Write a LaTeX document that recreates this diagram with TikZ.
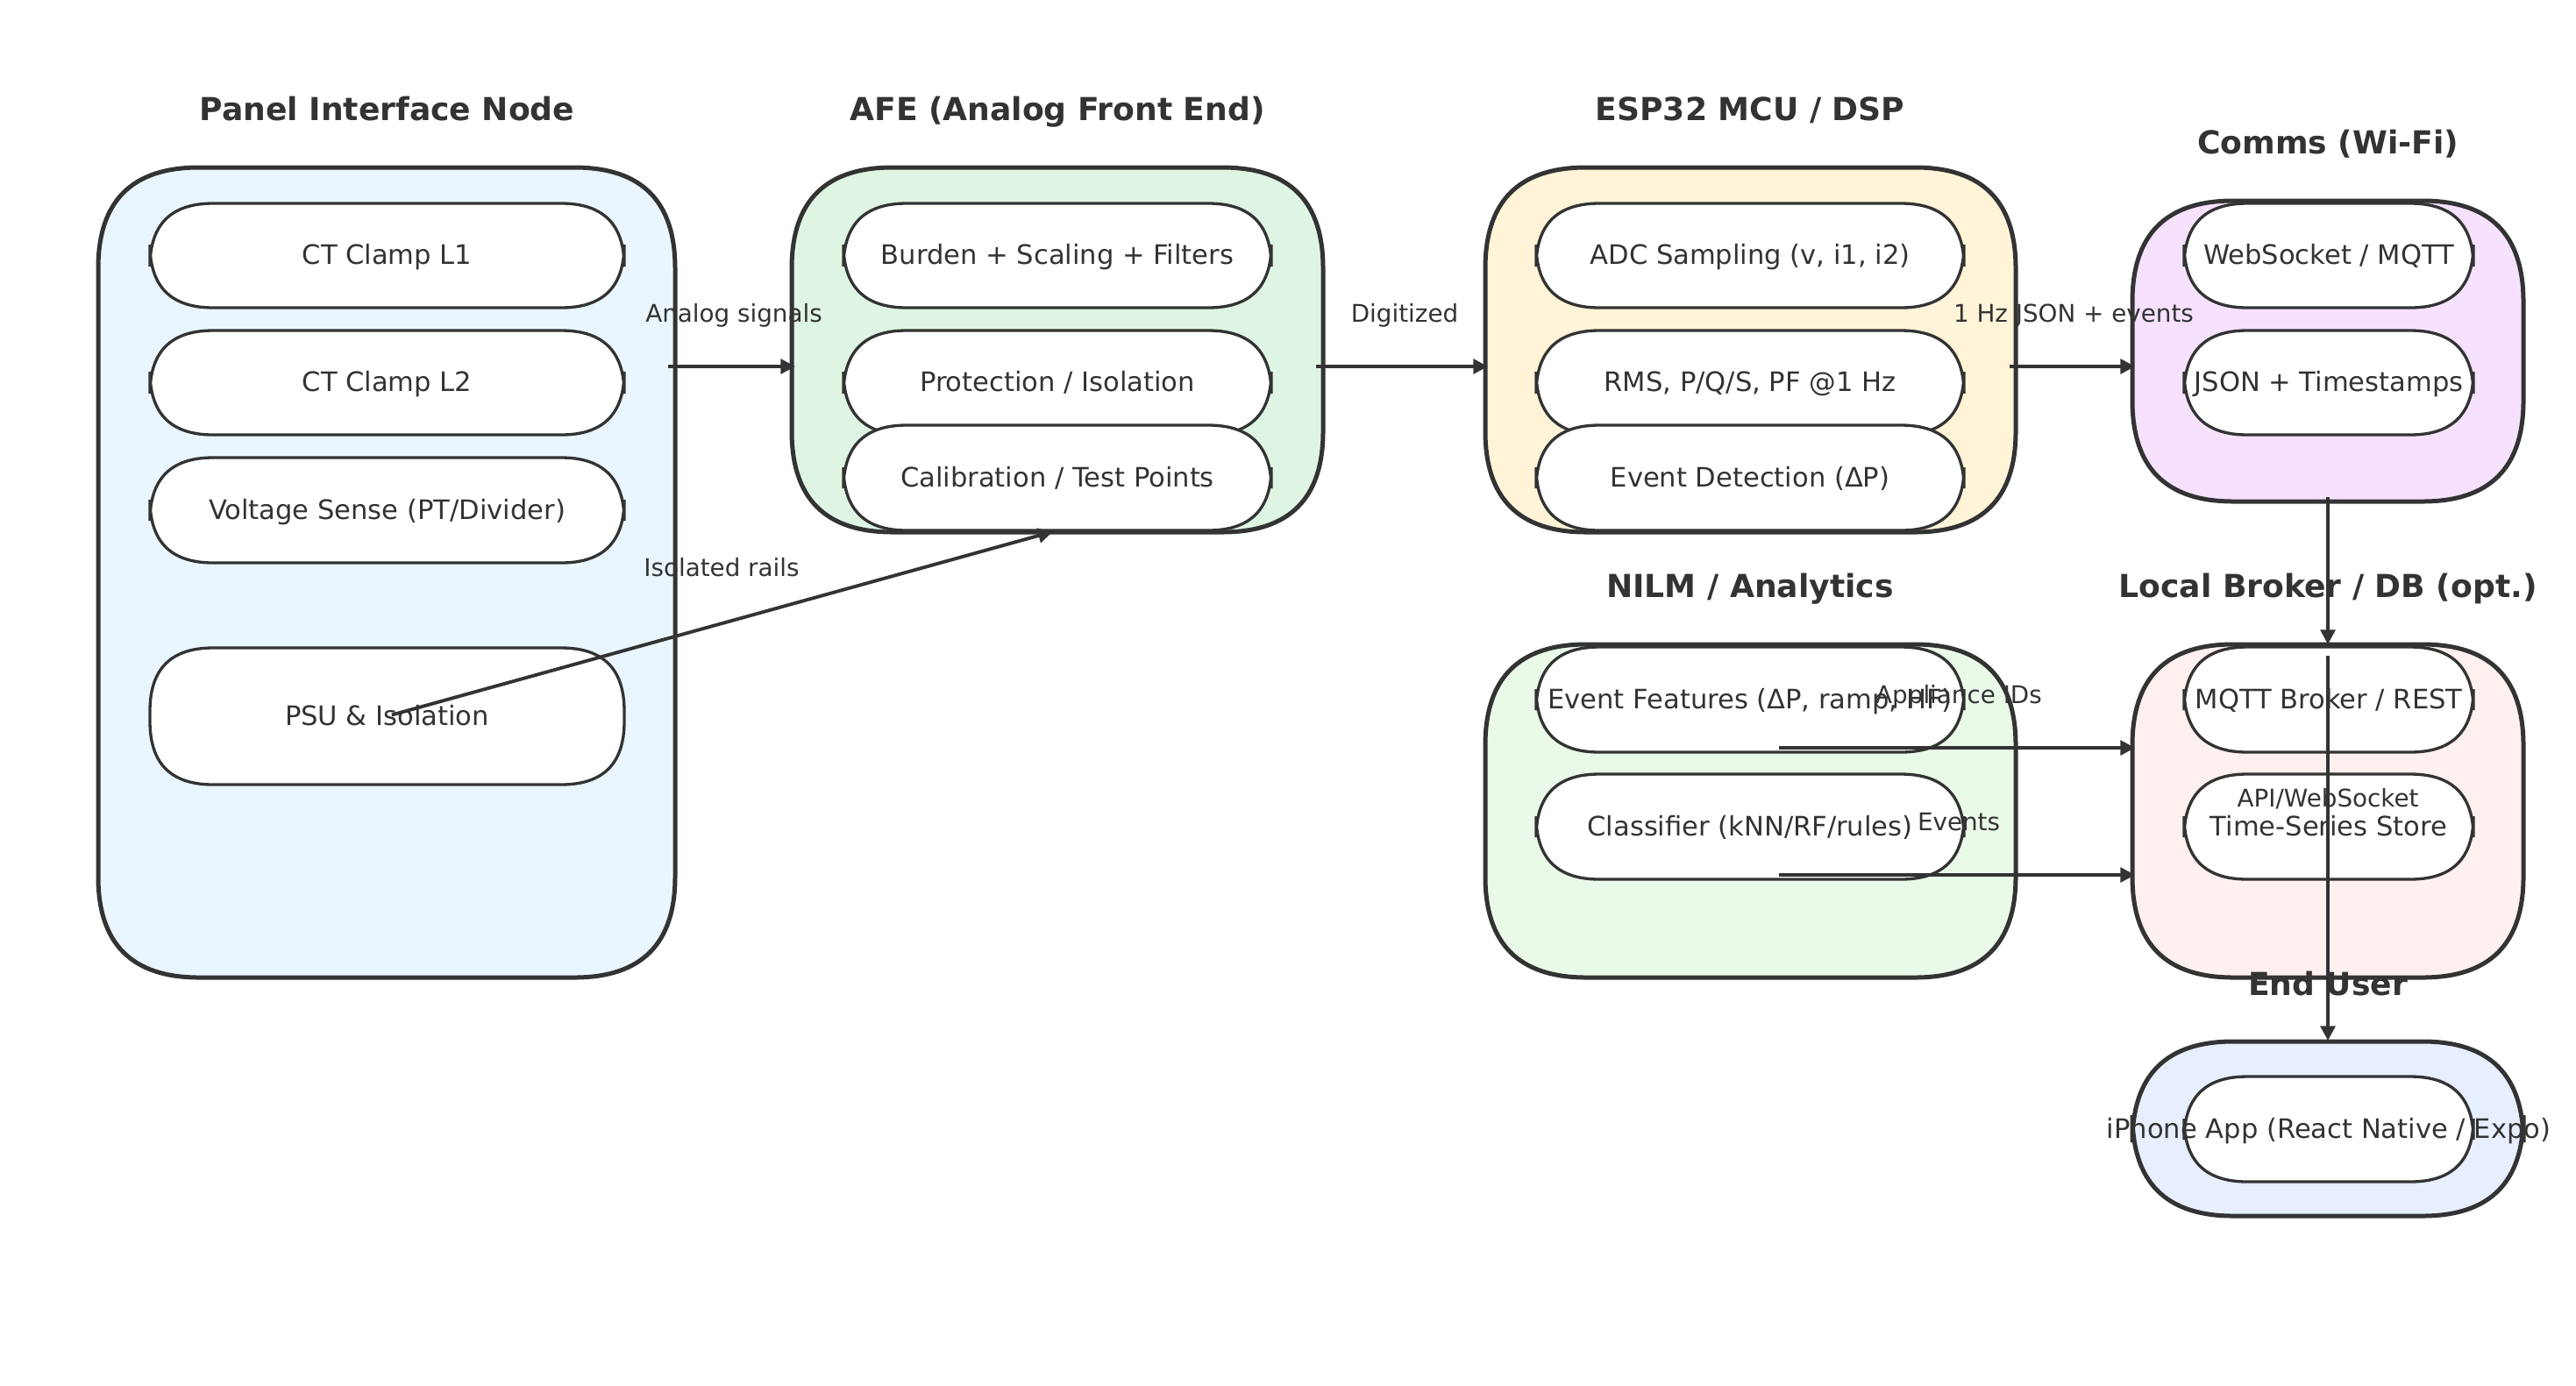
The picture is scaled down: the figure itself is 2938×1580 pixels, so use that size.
\documentclass[tikz,border=0pt]{standalone}
\usepackage{fontspec}
\setmainfont{DejaVu Sans}
\usetikzlibrary{arrows.meta}

\definecolor{ink}{HTML}{333333}
\definecolor{panelfill}{HTML}{EAF6FF}
\definecolor{afefill}{HTML}{DFF5E4}
\definecolor{mcufill}{HTML}{FFF4D7}
\definecolor{commsfill}{HTML}{F6E1FF}
\definecolor{nilmfill}{HTML}{EAFAE9}
\definecolor{brokerfill}{HTML}{FEF0EE}
\definecolor{userfill}{HTML}{E7EFFF}

% rounded box with square-ish corner curves: style, x0, y0, x1, y1, radius
\newcommand{\rbox}[6]{%
  \draw[#1] (#2+#6,#3) -- (#4-#6,#3)
    .. controls (#4-#6/3,#3) and (#4,#3+#6/3) .. (#4,#3+#6)
    -- (#4,#5-#6)
    .. controls (#4,#5-#6/3) and (#4-#6/3,#5) .. (#4-#6,#5)
    -- (#2+#6,#5)
    .. controls (#2+#6/3,#5) and (#2,#5-#6/3) .. (#2,#5-#6)
    -- (#2,#3+#6)
    .. controls (#2,#3+#6/3) and (#2+#6/3,#3) .. cycle;}
\newcommand{\pillbox}[4]{\rbox{pill}{#1}{#2}{#3}{#4}{72}}

\begin{document}
\begin{tikzpicture}[x=0.36pt,y=-0.36pt,
  grp/.style={draw=ink,line width=1.8pt},
  pill/.style={draw=ink,fill=white,line width=1.2pt},
  lbl/.style={text=ink,inner sep=0pt,text height=0.73em,text depth=0pt,
    font=\fontsize{11}{13}\selectfont},
  ttl/.style={lbl,font=\bfseries\fontsize{13}{15}\selectfont},
  elbl/.style={lbl,font=\fontsize{10}{12}\selectfont},
  flow/.style={draw=ink,line width=1.4pt,-{Triangle[length=6pt,width=6pt]}},
]
\useasboundingbox (0,0) rectangle (2938,1580);
%%
  % Node: Panel Interface Node
\begin{scope}
  \rbox{grp,fill=panelfill}{112}{191}{770}{1115}{115}
  \node[ttl] (panel) at (441.5,127) {Panel Interface Node};
  \pillbox{171}{232}{712}{351}
  \node[lbl] (ct1) at (441.5,291.5) {CT Clamp L1};
  \pillbox{171}{377}{712}{496}
  \node[lbl] (ct2) at (441.5,436.5) {CT Clamp L2};
  \pillbox{171}{522}{712}{642}
  \node[lbl] (vsense) at (441.5,582) {Voltage Sense (PT/Divider)};
  \pillbox{171}{739}{712}{895}
  \node[lbl] (psu) at (441.5,817) {PSU \& Isolation};
\end{scope}
  % Node: AFE
\begin{scope}
  \rbox{grp,fill=afefill}{903}{191}{1509}{607}{115}
  \node[ttl] (afe) at (1206,127) {AFE (Analog Front End)};
  \pillbox{962}{232}{1450}{351}
  \node[lbl] (burden) at (1206,291.5) {Burden + Scaling + Filters};
  \pillbox{962}{377}{1450}{496}
  \node[lbl] (protect) at (1206,436.5) {Protection / Isolation};
  \pillbox{962}{485}{1450}{605}
  \node[lbl] (calib) at (1206,545) {Calibration / Test Points};
  \coordinate (calib-foot) at (1206,605);
\end{scope}
  % Node: ESP32
\begin{scope}
  \rbox{grp,fill=mcufill}{1694}{191}{2299}{607}{115}
  \node[ttl] (mcu) at (1996,127) {ESP32 MCU / DSP};
  \pillbox{1752}{232}{2240}{351}
  \node[lbl] (adc) at (1996,291.5) {ADC Sampling (v, i1, i2)};
  \pillbox{1752}{377}{2240}{496}
  \node[lbl] (rms) at (1996,436.5) {RMS, P/Q/S, PF @1 Hz};
  \pillbox{1752}{485}{2240}{605}
  \node[lbl] (evdet) at (1996,545) {Event Detection (ΔP)};
\end{scope}
  % Node: Comms
\begin{scope}
  \rbox{grp,fill=commsfill}{2432}{229}{2878}{572}{115}
  \node[ttl] (comms) at (2655,165) {Comms (Wi-Fi)};
  \pillbox{2491}{232}{2821}{351}
  \node[lbl] (ws) at (2656,291.5) {WebSocket / MQTT};
  \pillbox{2491}{377}{2821}{496}
  \node[lbl] (json) at (2656,436.5) {JSON + Timestamps};
\end{scope}
  % Node: NILM
\begin{scope}
  \rbox{grp,fill=nilmfill}{1694}{735}{2299}{1115}{115}
  \node[ttl] (nilm) at (1996,671) {NILM / Analytics};
  \pillbox{1752}{738}{2240}{858}
  \node[lbl] (feat) at (1996,798) {Event Features (ΔP, ramp, HF)};
  \pillbox{1752}{883}{2240}{1003}
  \node[lbl] (clf) at (1996,943) {Classifier (kNN/RF/rules)};
\end{scope}
  % Node: Local Broker
\begin{scope}
  \rbox{grp,fill=brokerfill}{2432}{735}{2878}{1115}{115}
  \node[ttl] (broker) at (2655,671) {Local Broker / DB (opt.)};
  \pillbox{2491}{738}{2821}{858}
  \node[lbl] (mqtt) at (2656,798) {MQTT Broker / REST};
  \pillbox{2491}{883}{2821}{1003}
  \node[lbl] (tsdb) at (2656,943) {Time-Series Store};
\end{scope}
  % Node: End User
\begin{scope}
  \rbox{grp,fill=userfill}{2432}{1188}{2878}{1387}{115}
  \node[ttl] (user) at (2655,1125) {End User};
  \pillbox{2491}{1228}{2821}{1348}
  \node[lbl] (app) at (2656,1288) {iPhone App (React Native / Expo)};
\end{scope}
%%
  % Edge labels
  \node[elbl] (l-analog) at (837,357) {Analog signals};
  \node[elbl] (l-digit) at (1602,357) {Digitized};
  \node[elbl] (l-json) at (2365,357) {1 Hz JSON + events};
  \node[elbl] (l-rails) at (823,647) {Isolated rails};
  \node[elbl] (l-appl) at (2234,792) {Appliance IDs};
  \node[elbl] (l-events) at (2234,937) {Events};
  \node[elbl] (l-api) at (2655,910) {API/WebSocket};
  % Edge: Panel -> AFE
  \coordinate (panel-out) at (762,418);
  \coordinate (afe-in) at (907,418);
  \draw[flow] (panel-out) -- (afe-in);
  % Edge: AFE -> ESP32
  \coordinate (afe-out) at (1501,418);
  \coordinate (mcu-in) at (1697,418);
  \draw[flow] (afe-out) -- (mcu-in);
  % Edge: ESP32 -> Comms
  \coordinate (mcu-out) at (2292,418);
  \coordinate (comms-in) at (2435,418);
  \draw[flow] (mcu-out) -- (comms-in);
  % Edge: PSU -> Calibration
  \draw[flow,shorten <=2pt,shorten >=2pt] (psu.center) -- (calib-foot);
  % Edge: Comms -> Broker
  \coordinate (comms-out) at (2655,567);
  \coordinate (broker-in) at (2655,735);
  \draw[flow] (comms-out) -- (broker-in);
  % Edge: NILM -> Broker
  \coordinate (feat-out) at (2029,853);
  \coordinate (appl-in) at (2435,853);
  \draw[flow] (feat-out) -- (appl-in);
  \coordinate (clf-out) at (2029,998);
  \coordinate (events-in) at (2435,998);
  \draw[flow] (clf-out) -- (events-in);
  % Edge: Broker -> End User
  \coordinate (broker-out) at (2655,748);
  \coordinate (user-in) at (2655,1187);
  \draw[flow] (broker-out) -- (user-in);
%
\end{tikzpicture}
\end{document}
